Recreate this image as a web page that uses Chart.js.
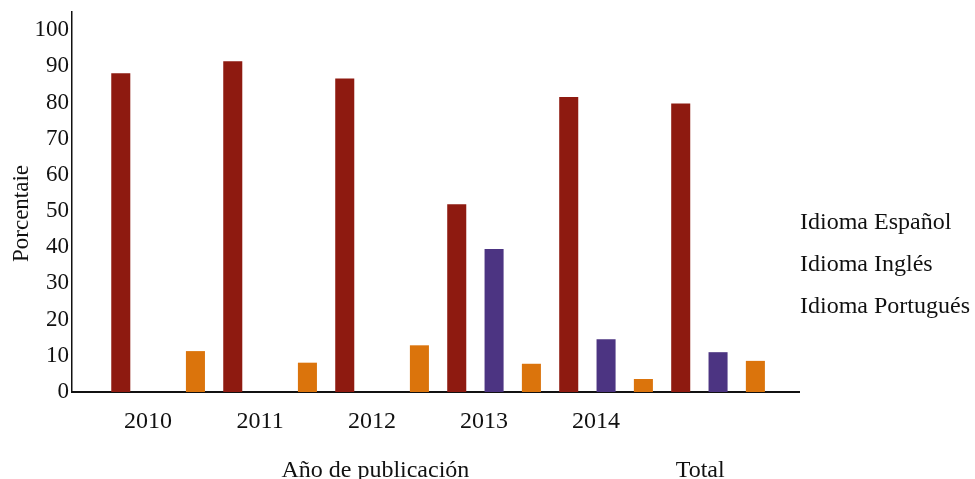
<!DOCTYPE html>
<html>
<head>
<meta charset="utf-8">
<script src="https://cdn.jsdelivr.net/npm/chart.js@4.4.1/dist/chart.umd.min.js"></script>
<style>
  html, body { margin: 0; padding: 0; background: #fff; }
  #wrap { width: 975px; height: 479px; position: relative; }
</style>
</head>
<body>
<div id="wrap"><canvas id="c"></canvas></div>
<script>
const categories = ['2010', '2011', '2012', '2013', '2014', 'Total'];
const espanol   = [88.1, 91.4, 86.6, 51.9, 81.5, 79.7];
const ingles    = [0, 0, 0, 39.5, 14.6, 11.0];
const portugues = [11.3, 8.1, 12.9, 7.8, 3.6, 8.6];
const seriesNames = ['Idioma Español', 'Idioma Inglés', 'Idioma Portugués'];
const yearTickLabels = ['2010', '2011', '2012', '2013', '2014'];
const groupLabels = ['Año de publicación', 'Total'];
const groupPositions = [1.94, 4.84];
const yTicks = [0, 10, 20, 30, 40, 50, 60, 70, 80, 90, 100];

const colors = ['#8E1A10', '#4C3482', '#DB740C'];
const serif = "'Liberation Serif', 'DejaVu Serif', serif";

function toPoints(arr) { return arr.map((v, i) => ({ x: i, y: v })); }

new Chart(document.getElementById('c'), {
  type: 'bar',
  data: {
    datasets: [
      { label: seriesNames[0], data: toPoints(espanol), backgroundColor: colors[0] },
      { label: seriesNames[1], data: toPoints(ingles), backgroundColor: colors[1] },
      { label: seriesNames[2], data: toPoints(portugues), backgroundColor: colors[2] }
    ]
  },
  options: {
    responsive: true,
    maintainAspectRatio: false,
    animation: false,
    categoryPercentage: 1.0,
    barPercentage: 0.51,
    borderWidth: 0,
    layout: { padding: { top: 0, left: 0, right: -5, bottom: -11 } },
    plugins: {
      tooltip: { enabled: false },
      legend: {
        position: 'right',
        align: 'center',
        title: { display: true, text: ' ', font: { size: 5, lineHeight: 1 }, padding: { top: 16, bottom: 19 } },
        labels: {
          boxWidth: -29,
          boxHeight: 0,
          padding: 18,
          color: '#111',
          font: { family: serif, size: 24 }
        }
      }
    },
    scales: {
      x: {
        type: 'linear',
        position: 'bottom',
        weight: 0,
        offset: false,
        min: -0.768,
        max: 5.723,
        grid: { display: false, drawTicks: false },
        border: { display: true, color: '#111', width: 2 },
        afterBuildTicks: (scale) => { scale.ticks = yearTickLabels.map((_, i) => ({ value: i })); },
        ticks: {
          autoSkip: false,
          maxRotation: 0,
          padding: 15.6,
          labelOffset: -10,
          color: '#111',
          font: { family: serif, size: 24 },
          callback: (v, i) => yearTickLabels[i]
        }
      },
      x2: {
        type: 'linear',
        position: 'bottom',
        weight: 1,
        offset: false,
        min: -0.768,
        max: 5.723,
        grid: { display: false, drawTicks: false },
        border: { display: false },
        afterBuildTicks: (scale) => { scale.ticks = groupPositions.map(p => ({ value: p })); },
        ticks: {
          autoSkip: false,
          maxRotation: 0,
          padding: 7,
          color: '#111',
          font: { family: serif, size: 24, lineHeight: 1 },
          callback: (v, i) => groupLabels[i]
        }
      },
      y: {
        type: 'linear',
        min: 0,
        max: 105,
        grid: { display: false, drawTicks: false },
        border: { display: true, color: '#111', width: 1.5 },
        afterBuildTicks: (scale) => { scale.ticks = yTicks.map(v => ({ value: v })); },
        ticks: {
          padding: 3,
          color: '#111',
          font: { family: serif, size: 23, lineHeight: 0.78 }
        },
        title: {
          display: true,
          text: 'Porcentaie    ',
          color: '#111',
          font: { family: serif, size: 23 },
          padding: { top: 8, bottom: -4 }
        }
      }
    }
  }
});
</script>
</body>
</html>
